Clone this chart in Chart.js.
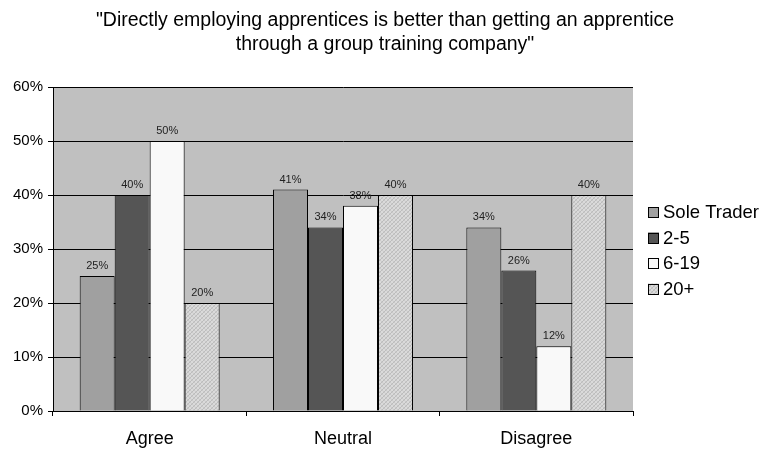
<!DOCTYPE html>
<html><head><meta charset="utf-8">
<script src="https://cdn.jsdelivr.net/npm/chart.js@4"></script>
<style>html,body{margin:0;padding:0;background:#fff}</style>
</head><body>
<canvas id="c" width="763" height="450"></canvas>
<script>
const categories = ['Agree', 'Neutral', 'Disagree'];
const seriesNames = ['Sole Trader', '2-5', '6-19', '20+'];
const soleTrader = [25, 41, 34];
const size2to5 = [40, 34, 26];
const size6to19 = [50, 38, 12];
const size20plus = [20, 40, 40];
const yTickValues = [0, 10, 20, 30, 40, 50, 60];
const titleLines = ['"Directly employing apprentices is better than getting an apprentice', 'through a group training company"'];

const FONT = '"Liberation Sans", Arial, sans-serif';

function hatch() {
  const p = document.createElement('canvas');
  p.width = 4; p.height = 4;
  const g = p.getContext('2d');
  g.fillStyle = '#dadada';
  g.fillRect(0, 0, 4, 4);
  g.fillStyle = '#bcbcbc';
  for (let i = 0; i < 4; i++) g.fillRect(i, 3 - i, 1, 1);
  g.fillStyle = '#cacaca';
  for (let i = 0; i < 4; i++) g.fillRect(i, i, 1, 1);
  return g.createPattern(p, 'repeat');
}
const hatchPattern = hatch();

const colors = ['#a0a0a0', '#555555', '#f9f9f9', hatchPattern];
const seriesValues = [soleTrader, size2to5, size6to19, size20plus];

const decor = {
  id: 'decor',
  beforeDraw(chart) {
    const { ctx, chartArea: a } = chart;
    ctx.save();
    ctx.fillStyle = '#c0c0c0';
    ctx.fillRect(a.left, a.top, a.right - a.left, a.bottom - a.top);
    ctx.restore();
  },
  afterDraw(chart) {
    const { ctx } = chart;
    ctx.save();
    // title
    ctx.fillStyle = '#000';
    ctx.font = '19.5px ' + FONT;
    ctx.textAlign = 'center';
    ctx.textBaseline = 'middle';
    titleLines.forEach((t, i) => ctx.fillText(t, 385, 21 + i * 24));
    // data labels
    ctx.font = '11px ' + FONT;
    ctx.fillStyle = '#222';
    chart.data.datasets.forEach((ds, di) => {
      chart.getDatasetMeta(di).data.forEach((bar, i) => {
        ctx.fillText(ds.data[i] + '%', bar.x, bar.y - 10);
      });
    });
    // legend
    ctx.font = '18.5px ' + FONT;
    ctx.textAlign = 'left';
    seriesNames.forEach((n, i) => {
      const cy = 212 + i * 25.5;
      ctx.fillStyle = colors[i];
      ctx.fillRect(648, cy - 5, 11, 11);
      ctx.strokeStyle = '#000';
      ctx.lineWidth = 1;
      ctx.strokeRect(648.5, Math.round(cy - 5) + 0.5, 10, 10);
      ctx.fillStyle = '#000';
      ctx.fillText(n, 663, cy + 1);
    });
    ctx.restore();
  }
};

new Chart(document.getElementById('c'), {
  type: 'bar',
  data: {
    labels: categories,
    datasets: seriesNames.map((n, i) => ({
      label: n,
      data: seriesValues[i],
      backgroundColor: colors[i],
      borderColor: '#000',
      borderWidth: 1,
      categoryPercentage: 0.724,
      barPercentage: 1
    }))
  },
  options: {
    responsive: false,
    animation: false,
    layout: { padding: { top: 87, right: 130, left: 0, bottom: 0 } },
    plugins: { legend: { display: false }, title: { display: false }, tooltip: { enabled: false } },
    scales: {
      x: {
        grid: { drawOnChartArea: false, color: '#000', tickLength: 5, offset: true },
        border: { color: '#000' },
        ticks: { color: '#000', font: { family: FONT, size: 18 }, padding: 12 },
        afterFit(s) { s.height = 39; }
      },
      y: {
        min: 0, max: 60,
        afterBuildTicks(s) { s.ticks = yTickValues.map(v => ({ value: v })); },
        grid: { color: '#000', tickLength: 5 },
        border: { color: '#000' },
        ticks: { color: '#000', font: { family: FONT, size: 15 }, padding: 5, callback: v => v + '%' },
        afterFit(s) { s.width = 53; }
      }
    }
  },
  plugins: [decor]
});
</script>
</body></html>
